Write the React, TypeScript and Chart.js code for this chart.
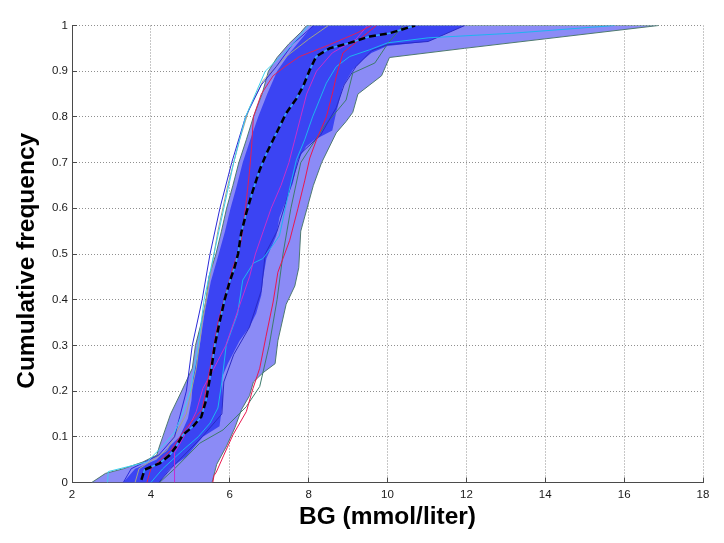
import React, { useEffect, useRef } from "react";
import { Chart, registerables } from "chart.js";

Chart.register(...registerables);

type P = [number, number];

const X_TICKS = [2, 4, 6, 8, 10, 12, 14, 16, 18];
const Y_TICKS = [0, 0.1, 0.2, 0.3, 0.4, 0.5, 0.6, 0.7, 0.8, 0.9, 1];
const X_TITLE = "BG (mmol/liter)";
const Y_TITLE = "Cumulative frequency";

// Outer (light) envelope, [BG, cumulative frequency]
const OUTER_LEFT: P[] = [
  [2.5, 0], [2.85, 0.02], [3.3, 0.03], [3.8, 0.045], [4.15, 0.06], [4.22, 0.08], [4.3, 0.1],
  [4.5, 0.15], [4.78, 0.2], [5.05, 0.25], [5.13, 0.3], [5.28, 0.35], [5.4, 0.4], [5.47, 0.45],
  [5.65, 0.5], [5.79, 0.55], [5.92, 0.6], [6.08, 0.65], [6.23, 0.7], [6.42, 0.75], [6.6, 0.8],
  [6.82, 0.85], [6.98, 0.9], [7.2, 0.93], [7.5, 0.96], [7.8, 0.985], [7.95, 1],
];
const OUTER_RIGHT: P[] = [
  [5.55, 0], [5.67, 0.04], [5.92, 0.08], [6.13, 0.12], [6.3, 0.16], [6.5, 0.19], [6.6, 0.22],
  [6.84, 0.24], [7.15, 0.26], [7.22, 0.31], [7.43, 0.39], [7.65, 0.43], [7.75, 0.47],
  [7.8, 0.55], [7.96, 0.6], [8.12, 0.65], [8.33, 0.7], [8.7, 0.765], [8.95, 0.79], [9.12, 0.81],
  [9.25, 0.85], [9.55, 0.87], [9.85, 0.89], [9.95, 0.91], [10.05, 0.93], [11.95, 0.95], [16.87, 1],
];

// Inner (dark) envelope
const INNER_LEFT: P[] = [
  [3.3, 0], [3.6, 0.03], [4.14, 0.05], [4.48, 0.08], [4.73, 0.1], [4.94, 0.14], [5.03, 0.18],
  [5.07, 0.23], [5.24, 0.3], [5.36, 0.37], [5.52, 0.44], [5.72, 0.5], [5.88, 0.55], [6.02, 0.6],
  [6.18, 0.65], [6.33, 0.7], [6.52, 0.75], [6.72, 0.8], [6.95, 0.85], [7.2, 0.9], [7.52, 0.94], [8.1, 1],
];
const INNER_RIGHT: P[] = [
  [4.2, 0], [4.48, 0.03], [4.9, 0.057], [5.32, 0.1], [5.74, 0.123], [5.83, 0.18], [5.8, 0.23],
  [5.95, 0.26], [6.25, 0.31], [6.5, 0.34], [6.67, 0.37], [6.8, 0.41], [6.85, 0.45], [6.93, 0.49],
  [7.18, 0.54], [7.26, 0.58], [7.6, 0.655], [7.73, 0.706], [7.94, 0.735], [8.15, 0.75], [8.6, 0.77],
  [8.7, 0.81], [8.87, 0.867], [9.12, 0.903], [9.38, 0.925], [9.59, 0.94], [10.0, 0.955],
  [11.03, 0.965], [11.96, 1],
];

// Median curve
const MEDIAN: P[] = [
  [3.76, 0.006], [3.84, 0.028], [4.22, 0.042], [4.48, 0.06], [4.65, 0.08], [4.81, 0.104],
  [5.07, 0.123], [5.28, 0.144], [5.4, 0.18], [5.52, 0.24], [5.62, 0.3], [5.74, 0.35], [5.87, 0.4],
  [6.0, 0.44], [6.12, 0.47], [6.21, 0.5], [6.29, 0.546], [6.42, 0.59], [6.59, 0.64], [6.76, 0.684],
  [6.93, 0.72], [7.1, 0.75], [7.43, 0.808], [7.69, 0.84], [7.86, 0.867], [8.03, 0.903],
  [8.19, 0.932], [8.53, 0.95], [9.04, 0.962], [9.55, 0.976], [10.05, 0.983], [10.7, 1],
];

// Individual subject curves
const SUBJ_CRIMSON_R: P[] = [
  [5.57, 0], [5.6, 0.015], [5.66, 0.023], [5.85, 0.06], [6.08, 0.104], [6.42, 0.155], [6.59, 0.206],
  [6.76, 0.25], [6.92, 0.32], [7.1, 0.395], [7.22, 0.46], [7.52, 0.53], [7.73, 0.6], [7.9, 0.66],
  [8.03, 0.71], [8.2, 0.75], [8.45, 0.8], [8.6, 0.85], [8.7, 0.888], [8.87, 0.94], [9.38, 0.976], [9.72, 1],
];
const SUBJ_CRIMSON_L: P[] = [
  [3.9, 0], [4.0, 0.03], [4.5, 0.07], [4.9, 0.12], [5.3, 0.16], [5.5, 0.25], [5.7, 0.35],
  [5.95, 0.43], [6.08, 0.47], [6.2, 0.5], [6.29, 0.53], [6.4, 0.6], [6.5, 0.68], [6.55, 0.73],
  [6.6, 0.8], [6.8, 0.85], [7.1, 0.89], [7.4, 0.91], [7.77, 0.932], [8.53, 0.958], [9.21, 0.983], [9.6, 1],
];
const SUBJ_MAGENTA: P[] = [
  [4.6, 0], [4.6, 0.065], [4.9, 0.11], [5.15, 0.155], [5.32, 0.206], [5.6, 0.25], [5.9, 0.3],
  [6.1, 0.35], [6.3, 0.4], [6.5, 0.45], [6.65, 0.5], [6.85, 0.55], [7.05, 0.6], [7.3, 0.65],
  [7.5, 0.7], [7.65, 0.75], [7.8, 0.8], [7.95, 0.85], [8.2, 0.9], [8.6, 0.94], [9.2, 0.97], [9.5, 1],
];
const SUBJ_CYAN_R: P[] = [
  [4.0, 0], [4.3, 0.03], [4.8, 0.07], [5.2, 0.1], [5.5, 0.13], [5.7, 0.163], [5.8, 0.22],
  [5.91, 0.3], [6.2, 0.37], [6.33, 0.443], [6.6, 0.48], [6.84, 0.49], [7.1, 0.52], [7.26, 0.54],
  [7.51, 0.64], [7.69, 0.706], [7.9, 0.75], [8.1, 0.8], [8.45, 0.874], [8.7, 0.91], [9.04, 0.932],
  [9.55, 0.947], [10.0, 0.962], [11.03, 0.973], [13.15, 0.983], [15.76, 1],
];
const SUBJ_CYAN_L: P[] = [
  [2.9, 0], [2.92, 0.024], [3.9, 0.045], [4.3, 0.08], [4.6, 0.11], [4.8, 0.15], [5.0, 0.2],
  [5.1, 0.25], [5.2, 0.3], [5.35, 0.4], [5.6, 0.5], [5.85, 0.6], [6.1, 0.7], [6.4, 0.8],
  [6.9, 0.9], [7.5, 0.95], [8.0, 1],
];
const SUBJ_BLUE_L: P[] = [
  [3.3, 0], [3.5, 0.03], [4.2, 0.06], [4.6, 0.1], [4.9, 0.2], [5.05, 0.3], [5.3, 0.4], [5.5, 0.5],
  [5.75, 0.6], [6.05, 0.7], [6.4, 0.8], [6.8, 0.87], [7.18, 0.91], [7.6, 0.96], [8.13, 1],
];
const SUBJ_BLUE_R: P[] = [
  [4.2, 0], [4.5, 0.03], [5.3, 0.1], [5.8, 0.15], [5.85, 0.22], [6.1, 0.28], [6.5, 0.34],
  [6.8, 0.42], [6.9, 0.5], [7.2, 0.55], [7.55, 0.65], [7.8, 0.72], [8.3, 0.76], [8.7, 0.82],
  [8.9, 0.87], [9.2, 0.91], [9.6, 0.945], [10.0, 0.958], [11.03, 0.965], [11.96, 1],
];
const SUBJ_TEAL: P[] = [
  [4.22, 0], [4.6, 0.03], [5.24, 0.086], [5.83, 0.115], [6.42, 0.166], [6.76, 0.21], [7.0, 0.3],
  [7.2, 0.4], [7.35, 0.5], [7.55, 0.6], [7.8, 0.7], [8.4, 0.78], [8.95, 0.837], [9.12, 0.896],
  [9.68, 0.918], [10.02, 0.962], [10.4, 1],
];
const SUBJ_GRAY: P[] = [
  [3.6, 0], [3.7, 0.03], [4.4, 0.07], [4.9, 0.15], [5.15, 0.25], [5.3, 0.35], [5.5, 0.45],
  [5.7, 0.55], [5.95, 0.65], [6.25, 0.75], [6.5, 0.82], [6.85, 0.88], [7.4, 0.93], [8.0, 0.97], [8.5, 1],
];

const toXY = (pts: P[]) => pts.map(([x, y]) => ({ x, y }));
const band = (left: P[], right: P[]) => toXY([...left, ...right.slice().reverse()]);

const FONT = "'Liberation Sans', Arial, Helvetica, sans-serif";

export default function App() {
  const ref = useRef<HTMLCanvasElement | null>(null);

  useEffect(() => {
    if (!ref.current) return;
    const thin = (data: P[], color: string, order: number) => ({
      data: toXY(data),
      showLine: true,
      borderColor: color,
      borderWidth: 1,
      pointRadius: 0,
      fill: false,
      order,
    });

    const chart = new Chart(ref.current, {
      type: "scatter",
      data: {
        datasets: [
          {
            data: band(OUTER_LEFT, OUTER_RIGHT),
            showLine: true,
            fill: "shape",
            backgroundColor: "#8b8bf6",
            borderColor: "#4f7a70",
            borderWidth: 1,
            pointRadius: 0,
            order: 100,
          },
          {
            data: band(INNER_LEFT, INNER_RIGHT),
            showLine: true,
            fill: "shape",
            backgroundColor: "#3b44f3",
            borderColor: "#3b44f3",
            borderWidth: 0,
            pointRadius: 0,
            order: 90,
          },
          thin(SUBJ_GRAY, "#a3a38a", 60),
          thin(SUBJ_TEAL, "#3d7a6c", 59),
          thin(SUBJ_BLUE_L, "#2a2ad8", 58),
          thin(SUBJ_BLUE_R, "#2b2bc4", 57),
          thin(SUBJ_CYAN_L, "#3fd0ee", 56),
          thin(SUBJ_CYAN_R, "#1eb4f0", 55),
          thin(SUBJ_MAGENTA, "#c42fd0", 54),
          thin(SUBJ_CRIMSON_L, "#e0205a", 53),
          thin(SUBJ_CRIMSON_R, "#e8174f", 52),
          {
            data: toXY(MEDIAN),
            showLine: true,
            borderColor: "#38a8ff",
            borderWidth: 1.5,
            pointRadius: 0,
            fill: false,
            order: 2,
          },
          {
            data: toXY(MEDIAN),
            showLine: true,
            borderColor: "#000000",
            borderWidth: 2.5,
            borderDash: [7, 4],
            pointRadius: 0,
            fill: false,
            order: 1,
          },
        ],
      },
      options: {
        responsive: false,
        animation: false,
        events: [],
        layout: { padding: { left: 0, right: 21, top: 25.5, bottom: 0 } },
        plugins: { legend: { display: false }, tooltip: { enabled: false } },
        scales: {
          x: {
            type: "linear",
            min: 2,
            max: 18,
            afterBuildTicks: (s: any) => {
              s.ticks = X_TICKS.map((v) => ({ value: v }));
            },
            afterFit: (s: any) => {
              s.height = 60.5;
            },
            grid: {
              color: "#8f8f8f",
              lineWidth: 1,
              drawTicks: true,
              tickLength: -5,
              tickColor: "#4a4a4a",
              tickBorderDash: [],
            },
            border: { display: true, color: "#4a4a4a", width: 1, dash: [1, 2] },
            ticks: {
              color: "#1a1a1a",
              font: { family: FONT, size: 11.5 },
              padding: 10,
              maxRotation: 0,
              callback: (v: any) => String(v),
            },
            title: {
              display: true,
              text: X_TITLE,
              color: "#000",
              font: { family: FONT, size: 24.5, weight: "bold" },
              padding: { top: 0, bottom: 10.8 },
            },
          },
          y: {
            type: "linear",
            min: 0,
            max: 1,
            afterBuildTicks: (s: any) => {
              s.ticks = Y_TICKS.map((v) => ({ value: v }));
            },
            afterFit: (s: any) => {
              s.width = 72;
            },
            grid: {
              color: "#8f8f8f",
              lineWidth: 1,
              drawTicks: true,
              tickLength: -5,
              tickColor: "#4a4a4a",
              tickBorderDash: [],
            },
            border: { display: true, color: "#4a4a4a", width: 1, dash: [1, 2] },
            ticks: {
              color: "#1a1a1a",
              font: { family: FONT, size: 11.5 },
              padding: 9,
              callback: (v: any) => String(Number(Number(v).toFixed(1))),
            },
            title: {
              display: true,
              text: Y_TITLE + "  ",
              color: "#000",
              font: { family: FONT, size: 24.5, weight: "bold" },
              padding: { top: 12.3, bottom: 0 },
            },
          },
        },
      },
    } as any);
    return () => chart.destroy();
  }, []);

  return (
    <div style={{ position: "fixed", left: 0, top: 0, width: 724, height: 543, background: "#fff" }}>
      <canvas ref={ref} width={724} height={543} style={{ width: 724, height: 543 }} />
    </div>
  );
}
